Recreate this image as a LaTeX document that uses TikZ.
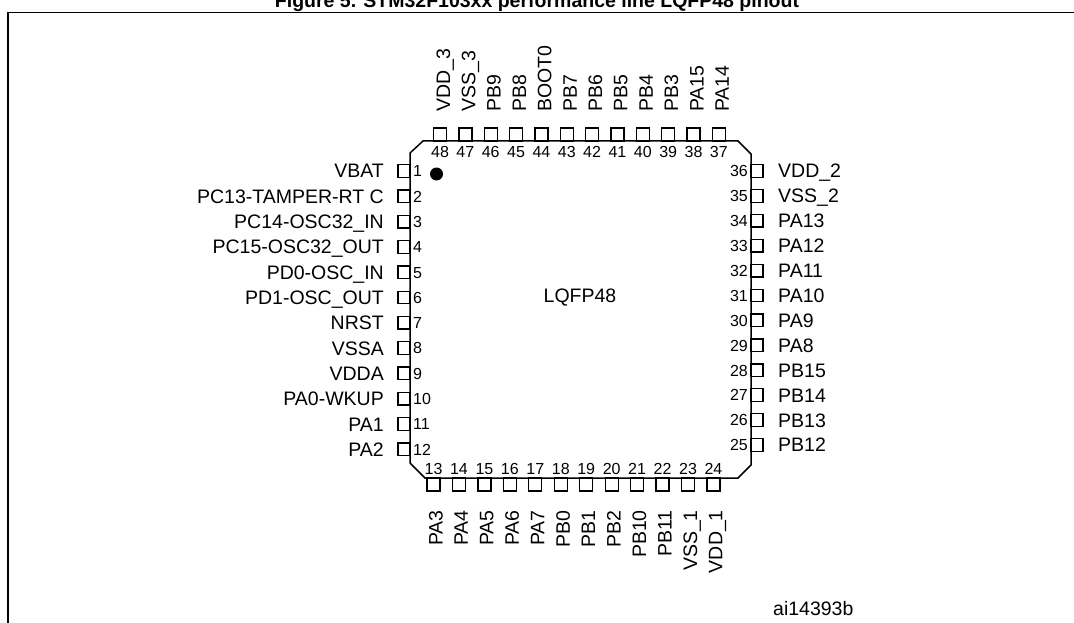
\documentclass[tikz,border=0pt]{standalone}
\usepackage{fontspec}
\setmainfont{Liberation Sans}
\begin{document}
\begin{tikzpicture}[x=1pt,y=-1pt,
  lbl/.style={font=\fontsize{19.5}{20}\selectfont, inner sep=0pt},
  num/.style={font=\fontsize{16}{16}\selectfont, inner sep=0pt},
  pinbox/.style={draw, line width=1.3pt},
  frame/.style={line width=1.6pt},
  body/.style={draw, line width=1.5pt}]
\useasboundingbox (0,0) rectangle (1074,623);
% title (cut at the top, as in the reference)
\node[font=\bfseries\fontsize{19.5}{20}\selectfont, anchor=base, inner sep=0pt] (title) at (537,8) {Figure 5. STM32F103xx performance line LQFP48 pinout};
% frame
\draw[frame] (8,640) -- (8,12.5) -- (1090,12.5);
% chip body
\draw[body] (410,153) -- (423,141) -- (738,141) -- (751,154) -- (751,465) -- (738,478) -- (425,478) -- (410,463) -- cycle;
\fill (436.5,174) circle (6.5);
\node[lbl] (pkg) at (580,298) {LQFP48};
% left pins
\foreach \n/\t [count=\i from 0] in {1/VBAT,2/PC13-TAMPER-RT C,3/PC14-OSC32\_IN,4/PC15-OSC32\_OUT,5/PD0-OSC\_IN,6/PD1-OSC\_OUT,7/NRST,8/VSSA,9/VDDA,10/PA0-WKUP,11/PA1,12/PA2}{
  \pgfmathsetmacro\cy{171+25.3*\i}
  \draw[pinbox] (398,\cy-6.3) rectangle (410,\cy+6.3);
  \node[lbl, anchor=base east] (L\n) at (384,\cy+7) {\t};
  \node[num, anchor=base west] (nL\n) at (413,\cy+5.8) {\n};
}
% right pins
\foreach \n/\t [count=\i from 0] in {36/VDD\_2,35/VSS\_2,34/PA13,33/PA12,32/PA11,31/PA10,30/PA9,29/PA8,28/PB15,27/PB14,26/PB13,25/PB12}{
  \pgfmathsetmacro\cy{171+24.9*\i}
  \draw[pinbox] (751,\cy-6.3) rectangle (763,\cy+6.3);
  \node[lbl, anchor=base west] (R\n) at (778,\cy+7) {\t};
  \node[num, anchor=base east] (nR\n) at (748,\cy+5.8) {\n};
}
% top pins
\foreach \n/\t [count=\i from 0] in {48/VDD\_3,47/VSS\_3,46/PB9,45/PB8,44/BOOT0,43/PB7,42/PB6,41/PB5,40/PB4,39/PB3,38/PA15,37/PA14}{
  \pgfmathsetmacro\cx{440+25.35*\i}
  \draw[pinbox] (\cx-6.5,128) rectangle (\cx+6.5,141);
  \node[lbl, rotate=90, anchor=base west] (T\n) at (\cx+10,112) {\t};
  \node[num, anchor=base] (nT\n) at (\cx,158) {\n};
}
% bottom pins
\foreach \n/\t [count=\i from 0] in {13/PA3,14/PA4,15/PA5,16/PA6,17/PA7,18/PB0,19/PB1,20/PB2,21/PB10,22/PB11,23/VSS\_1,24/VDD\_1}{
  \pgfmathsetmacro\cx{433.5+25.45*\i}
  \draw[pinbox] (\cx-6.5,478) rectangle (\cx+6.5,491);
  \node[lbl, rotate=90, anchor=base east] (B\n) at (\cx+9,510) {\t};
  \node[num, anchor=base] (nB\n) at (\cx,474) {\n};
}
\node[lbl, anchor=base west] (ref) at (773,615) {ai14393b};
\end{tikzpicture}
\end{document}
